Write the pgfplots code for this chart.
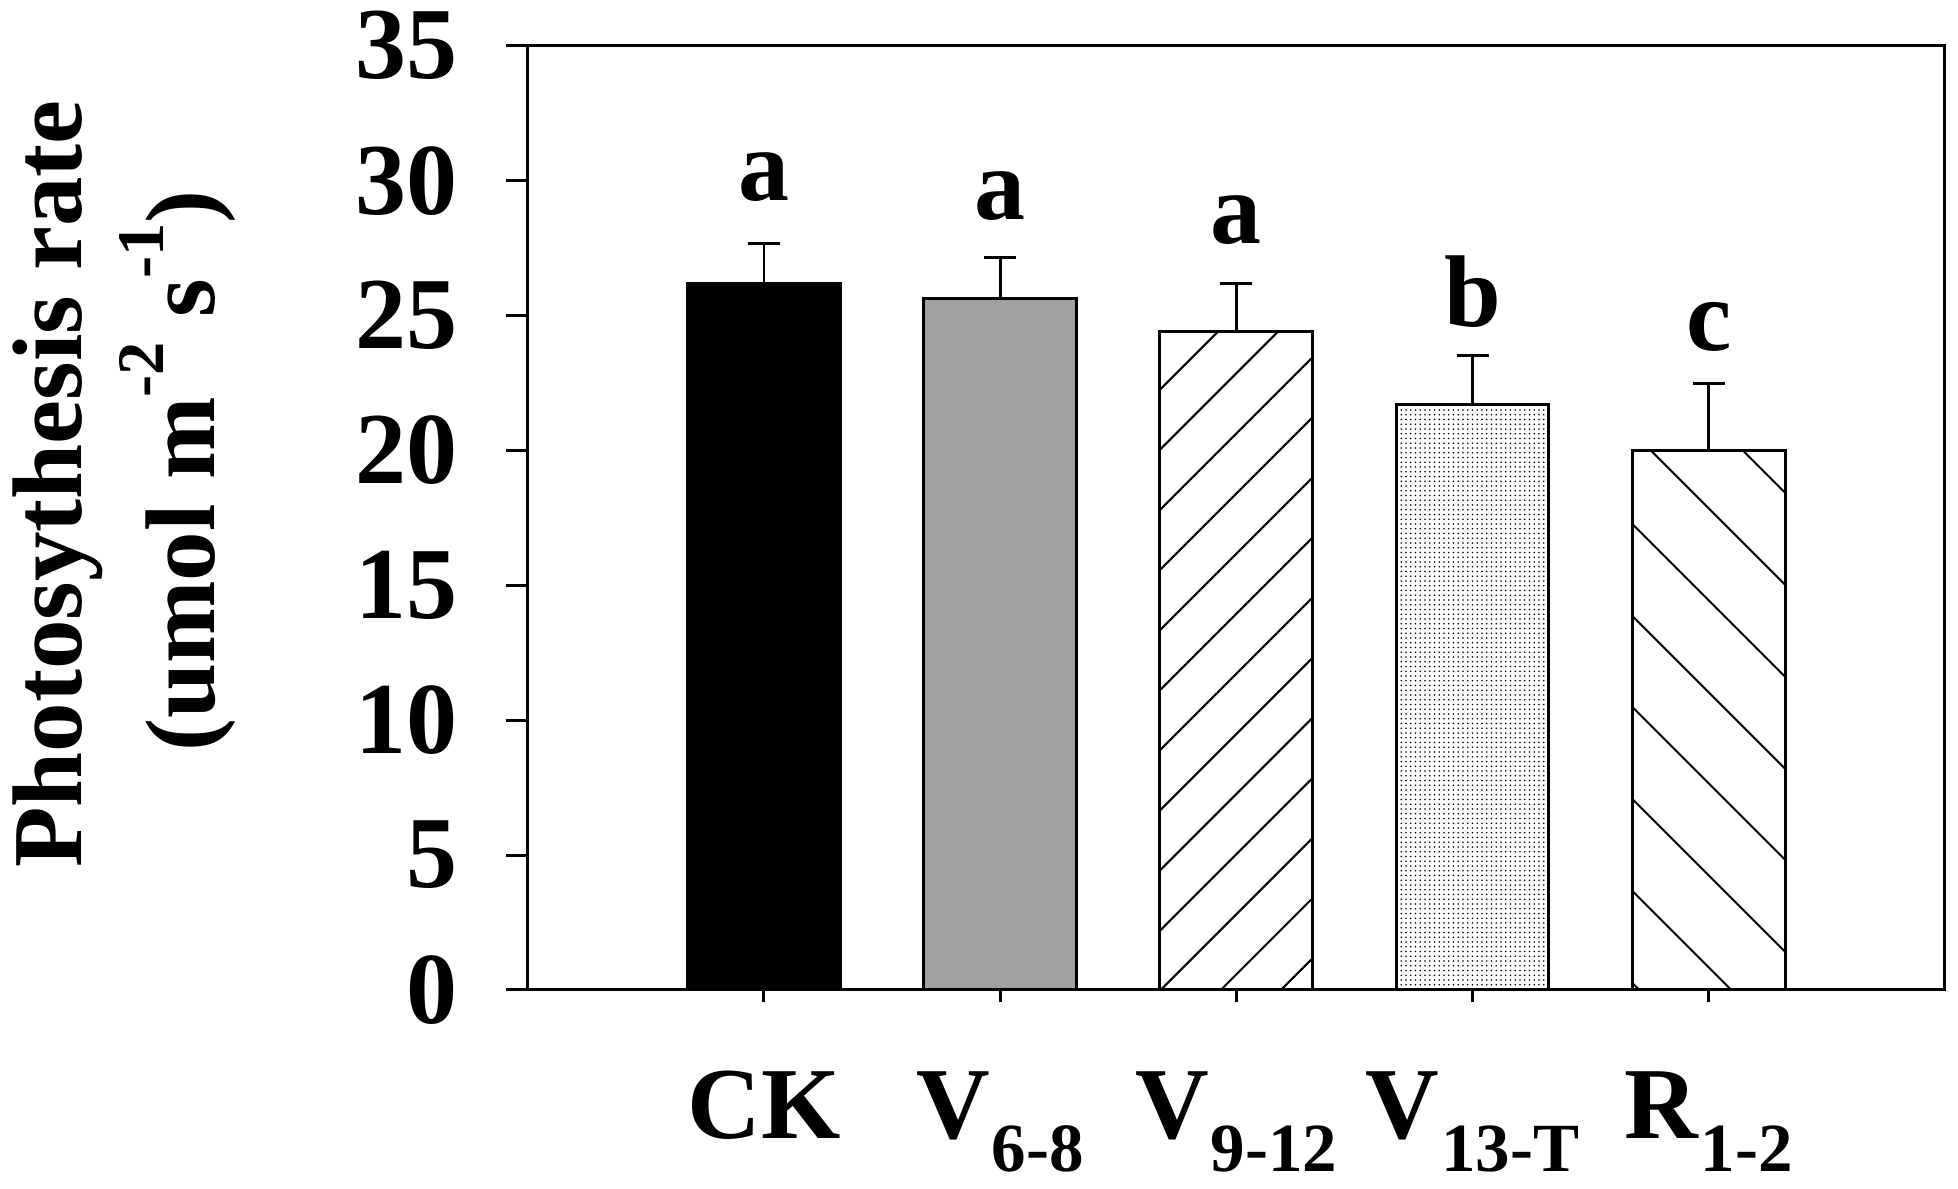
\documentclass[border=0pt]{standalone}
\usepackage{fontspec}
\setmainfont{Liberation Serif}
\usepackage{pgfplots}
\pgfplotsset{compat=1.18}
\usetikzlibrary{patterns.meta}
\newcommand\sub[1]{\kern0.4pt\raisebox{-6.7pt}{\fontsize{13.8}{15}\selectfont\bfseries #1}}
\newcommand\sups[1]{\raisebox{10.2pt}{\fontsize{13.3}{14}\selectfont\bfseries #1}}
\newcommand\bigfont{\fontsize{20.4}{24}\selectfont\bfseries}
\definecolor{barGray}{RGB}{160,160,160}
\pgfplotsset{
  errb/.style={error bars/.cd, y dir=plus, y explicit,
    error bar style={line width=0.55pt,black,solid},
    error mark options={rotate=90,mark size=3.2pt,line width=0.55pt,black,solid}},
  onebar/.style={ybar, bar width=0.647, bar shift=0pt, draw=black, line width=0.6pt},
}
\begin{document}
\begin{tikzpicture}
\begin{axis}[
  at={(0pt,0pt)}, anchor=south west,
  scale only axis, width=283.46pt, height=188.86pt,
  xmin=-1, xmax=5, ymin=0, ymax=35,
  xtick={0,1,2,3,4},
  xticklabels={CK, V\sub{6-8}, V\sub{9-12}, V\sub{13-T}, R\sub{1-2}},
  ytick={0,5,...,35},
  axis line style={line width=0.6pt},
  tick align=outside,
  tick pos=left,
  major tick length=4.4pt,
  tick style={line width=0.6pt, black},
  xtick style={/pgfplots/major tick length=2.4pt},
  /pgf/number format/assume math mode=true,
  ticklabel style={font=\bigfont},
  yticklabel style={anchor=east, inner sep=0pt, xshift=-9.5pt},
  xticklabel style={anchor=base, inner sep=0pt, yshift=-25.3pt},
  clip=false,
]
\addplot[onebar, fill=black, errb] coordinates {(0,26.19) +- (0,1.49)};
\addplot[onebar, fill=barGray, errb] coordinates {(1,25.64) +- (0,1.52)};
\addplot[onebar, pattern={Lines[angle=45, distance=8.5pt, line width=0.42pt]}, errb] coordinates {(2,24.42) +- (0,1.76)};
\addplot[onebar, pattern={Dots[distance=0.95pt, radius=0.17pt]}, errb] coordinates {(3,21.71) +- (0,1.80)};
\addplot[onebar, pattern={Lines[angle=-45, distance=13pt, line width=0.42pt]}, errb] coordinates {(4,19.98) +- (0,2.51)};
\node[font=\bigfont, anchor=base, inner sep=0pt] at (axis cs:0,29.28) {a};
\node[font=\bigfont, anchor=base, inner sep=0pt] at (axis cs:1,28.54) {a};
\node[font=\bigfont, anchor=base, inner sep=0pt] at (axis cs:2,27.66) {a};
\node[font=\bigfont, anchor=base, inner sep=0pt] at (axis cs:3,24.58) {b};
\node[font=\bigfont, anchor=base, inner sep=0pt] at (axis cs:4,23.72) {c};
\end{axis}
\node[rotate=90, anchor=base, inner sep=0pt, font=\fontsize{19.8}{24}\selectfont\bfseries] at (-89.14pt,101.2pt) {Photosythesis rate};
\node[rotate=90, anchor=base, inner sep=0pt, font=\fontsize{19.8}{24}\selectfont\bfseries] at (-62.6pt,103.8pt) {(umol m\sups{-2} s\sups{-1})};
\pgfresetboundingbox
\path (-105.54pt,-39.8pt) rectangle (286.06pt,198.0pt);
\end{tikzpicture}
\end{document}
